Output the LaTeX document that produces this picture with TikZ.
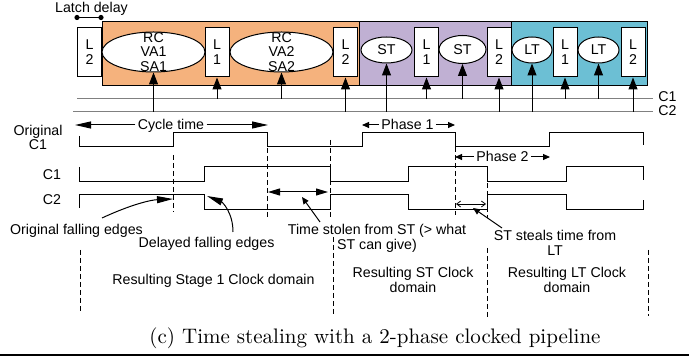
\documentclass[tikz,border=0pt]{standalone}
\usepackage{fontspec}
\newfontfamily\arial{Liberation Sans}
\usetikzlibrary{arrows.meta,shapes.geometric}

\definecolor{stgorange}{RGB}{245,178,125}
\definecolor{stgpurple}{RGB}{192,176,211}
\definecolor{stgteal}{RGB}{108,191,212}

\begin{document}
\begin{tikzpicture}[x=0.5pt, y=-0.5pt,
  font=\arial\fontsize{7.1}{7.2}\selectfont,
  every node/.style={inner sep=0pt},
  latch/.style={draw, fill=white, line width=0.5pt, minimum width=12pt,
    minimum height=24.5pt, align=center, font=\arial\fontsize{7.1}{7.5}\selectfont},
  stage/.style={ellipse, draw, fill=white, line width=0.5pt},
  wire/.style={gray, line width=0.5pt},
  clk/.style={-{Triangle[length=6pt,width=4.5pt]}, line width=0.5pt},
  wave/.style={line width=0.5pt},
  edge/.style={dash pattern=on 2.5pt off 1.5pt, line width=0.5pt},
  bigtip/.style={-{Triangle[length=8pt,width=3.5pt]}, line width=0.5pt},
  dbltip/.style={{Triangle[length=6pt,width=3.5pt]}-{Triangle[length=6pt,width=3.5pt]}, line width=0.5pt},
  smalltip/.style={-{Triangle[length=3.5pt,width=3pt]}, line width=0.5pt},
  barb/.style={{Straight Barb[length=2pt,width=3pt]}-{Straight Barb[length=2pt,width=3pt]}, line width=0.4pt}]

\useasboundingbox (0,0) rectangle (689,356);

% ── PIPELINE ────────────────────────────────────────────────

% Stage domains
\draw[fill=stgorange, line width=0.5pt] (102,22) rectangle (359,86);
\draw[fill=stgpurple, line width=0.5pt] (359,22) rectangle (511,86);
\draw[fill=stgteal,   line width=0.5pt] (511,22) rectangle (647,86);

% Latches and logic
\node[latch] (la) at (89.5,52.5) {L\\2};
\node[stage, minimum width=51.5pt, minimum height=20pt,
  label={[align=center]center:RC\\VA1\\SA1}] (rc1) at (153.5,52) {};
\node[latch] (lb) at (217,52.5) {L\\1};
\node[stage, minimum width=51.5pt, minimum height=20pt,
  label={[align=center]center:RC\\VA2\\SA2}] (rc2) at (281.5,52) {};
\node[latch] (lc) at (345.5,52.5) {L\\2};
\node[stage, minimum width=25.5pt, minimum height=13pt] (st1) at (386.5,50) {ST};
\node[latch] (ld) at (426.5,52.5) {L\\1};
\node[stage, minimum width=23.5pt, minimum height=14pt] (st2) at (462.5,49.5) {ST};
\node[latch] (le) at (499,52.5) {L\\2};
\node[stage, minimum width=20pt, minimum height=13pt] (lt1) at (532,50) {LT};
\node[latch] (lf) at (565,52.5) {L\\1};
\node[stage, minimum width=20.5pt, minimum height=13pt] (lt2) at (598.5,50) {LT};
\node[latch] (lg) at (633,52.5) {L\\2};

% Latch delay
\node[anchor=base] (ldly) at (91.5,13) {Latch delay};
\coordinate (ldlyL) at (77,17.5);
\coordinate (ldlyR) at (101,17.5);
\draw[line width=0.5pt] (ldlyL) -- (ldlyR);
\fill (ldlyL) circle (1.3pt);
\fill (ldlyR) circle (1.3pt);

% Clock wires
\coordinate (w1) at (77,99);  \coordinate (w1e) at (653,99);
\coordinate (w2) at (73,112); \coordinate (w2e) at (653,112);
\draw[wire] (w1) -- (w1e);
\draw[wire] (w2) -- (w2e);
\node[anchor=base west] (c1lbl) at (658,102) {C1};
\node[anchor=base west] (c2lbl) at (658,115.5) {C2};

\foreach \n/\w in {rc1/w2, lb/w1, rc2/w1, lc/w2, st1/w2, ld/w1,
                   st2/w1, le/w2, lt1/w2, lf/w1, lt2/w1, lg/w2} {
    \draw[clk] (\n.south |- \w) -- (\n.south);
}

% ── TIMING ──────────────────────────────────────────────────

% Signal names
\node[align=center, anchor=north] (oc1) at (38,124.5) {Original\\C1};
\node[anchor=base] (c1n) at (52,180) {C1};
\node[anchor=base] (c2n) at (52,205) {C2};

% Waveforms
\draw[wave] (79,136) -- (79,147) -- (173,147) -- (173,133) -- (267,133) -- (267,147)
  -- (362,147) -- (362,133) -- (455,133) -- (455,147) -- (549,147) -- (549,133)
  -- (643,133) -- (643,145);
\draw[wave] (79,167) -- (79,182) -- (204,182) -- (204,167) -- (330,167) -- (330,182)
  -- (408,182) -- (408,167) -- (487,167) -- (487,182) -- (566,182) -- (566,167)
  -- (643,167) -- (643,180);
\draw[wave] (79,208) -- (79,195) -- (204,195) -- (204,210) -- (330,210) -- (330,195)
  -- (408,195) -- (408,210) -- (487,210) -- (487,195) -- (566,195) -- (566,210)
  -- (643,210) -- (643,200);

% Edge markers
\draw[edge] (173,155) -- (173,212);
\draw[edge] (267,148) -- (267,220);
\draw[edge] (330,140) -- (330,218);
\draw[edge] (455,147) -- (455,215);
\draw[edge] (487,167) -- (487,218);

% Cycle time, Phase 1, Phase 2
\node[anchor=mid, inner xsep=1pt] (cyc) at (171,125) {Cycle time};
\coordinate (cycL) at (75,125);  \coordinate (cycR) at (268,125);
\draw[bigtip] (cyc.mid west) -- (cycL);
\draw[bigtip] (cyc.mid east) -- (cycR);

\node[anchor=mid, inner xsep=1pt] (ph1) at (407.5,125) {Phase 1};
\coordinate (ph1L) at (362,125); \coordinate (ph1R) at (455,125);
\draw[smalltip] (ph1.mid west) -- (ph1L);
\draw[smalltip] (ph1.mid east) -- (ph1R);

\node[anchor=mid, inner xsep=1pt] (ph2) at (502.5,157) {Phase 2};
\coordinate (ph2L) at (455,157); \coordinate (ph2R) at (550,157);
\draw[smalltip] (ph2.mid west) -- (ph2L);
\draw[smalltip] (ph2.mid east) -- (ph2R);

% Stolen time
\coordinate (tsL) at (268,192); \coordinate (tsR) at (328,192);
\draw[dbltip] (tsL) -- (tsR);
\coordinate (stL) at (456,204); \coordinate (stR) at (486,204);
\draw[barb] (stL) -- (stR);

% Annotations
\node[anchor=base] (ofe) at (76.5,235) {Original falling edges};
\coordinate (ofeS) at (102,218); \coordinate (ofeT) at (173,199);
\draw[bigtip] (ofeS) .. controls (130,205) and (150,200) .. (ofeT);

\node[anchor=base] (dfe) at (206.5,248) {Delayed falling edges};
\coordinate (dfeS) at (233,232); \coordinate (dfeT) at (207,196);
\draw[bigtip] (dfeS) .. controls (233,212) and (222,202) .. (dfeT);

\node[align=center, anchor=north] (tst) at (377,224) {Time stolen from ST (> what\\ST can give)};
\coordinate (tstS) at (320,222); \coordinate (tstT) at (302,197);
\draw[smalltip] (tstS) -- (tstT);

\node[align=center, anchor=north] (stt) at (555,230) {ST steals time from\\LT};
\coordinate (sttS) at (502,228); \coordinate (sttT) at (473,208);
\draw[smalltip] (sttS) -- (sttT);

% ── CLOCK DOMAINS ───────────────────────────────────────────

\foreach \x/\a/\b in {80/250/314, 333/237/316, 487/248/317, 648/250/316} {
    \draw[edge] (\x,\a) -- (\x,\b);
}
\node[anchor=base] (dom1) at (213.5,285) {Resulting Stage 1 Clock domain};
\node[align=center, anchor=north] (dom2) at (413,267) {Resulting ST Clock\\domain};
\node[align=center, anchor=north] (dom3) at (567,267) {Resulting LT Clock\\domain};

% Caption
\node[anchor=base, font=\rmfamily\fontsize{10.5}{12}\selectfont] (cap) at (375,344)
  {(c) Time stealing with a 2-phase clocked pipeline};
\draw[line width=1.2pt] (0,355) -- (689,355);

\end{tikzpicture}
\end{document}
